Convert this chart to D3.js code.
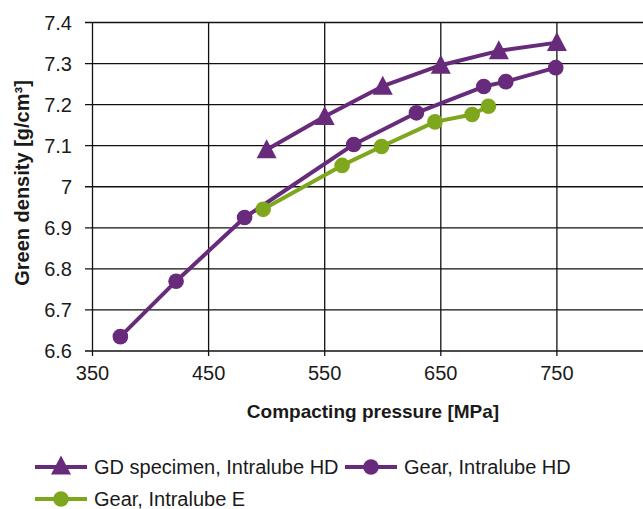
<!DOCTYPE html>
<html>
<head>
<meta charset="utf-8">
<script src="https://cdn.jsdelivr.net/npm/d3@7"></script>
<style>
  html, body { margin: 0; padding: 0; background: #fff; }
  svg { display: block; font-family: "Liberation Sans", Arial, sans-serif; }
</style>
</head>
<body>
<script>
// ---- data ----
const xTicks = [350, 450, 550, 650, 750, 850];
const yTicks = [6.6, 6.7, 6.8, 6.9, 7.0, 7.1, 7.2, 7.3, 7.4];

const gdPressure = [500, 550, 600, 650, 700, 750];
const gdDensity  = [7.09, 7.171, 7.245, 7.296, 7.331, 7.351];

const gearHDPressure = [374, 422, 481, 575, 629, 687, 706, 749];
const gearHDDensity  = [6.635, 6.77, 6.925, 7.103, 7.18, 7.244, 7.256, 7.29];

const gearEPressure = [497, 565, 599, 645, 677, 691];
const gearEDensity  = [6.945, 7.052, 7.098, 7.158, 7.176, 7.196];

const seriesNames = ["GD specimen, Intralube HD", "Gear, Intralube HD", "Gear, Intralube E"];
const xTitle = "Compacting pressure [MPa]";
const yTitle = "Green density [g/cm³]";

const PURPLE = "#682a7b";
const GREEN = "#7fa71e";

const W = 643, H = 509;
const svg = d3.select("body").append("svg").attr("width", W).attr("height", H);

const x = d3.scaleLinear().domain([350, 850]).range([92.5, 673]);
const y = d3.scaleLinear().domain([6.6, 7.4]).range([351, 22.5]);

// grid
const grid = svg.append("g").attr("stroke", "#111").attr("stroke-width", 1.3);
grid.selectAll("line.h").data(yTicks).join("line")
  .attr("x1", 85).attr("x2", W)
  .attr("y1", d => y(d)).attr("y2", d => y(d));
grid.selectAll("line.v").data(xTicks).join("line")
  .attr("x1", d => x(d)).attr("x2", d => x(d))
  .attr("y1", y(7.4)).attr("y2", y(6.6) + 5);

// tick labels
svg.append("g").selectAll("text").data(yTicks).join("text")
  .attr("x", 72).attr("y", d => y(d)).attr("dy", "0.36em")
  .attr("text-anchor", "end").attr("font-size", 20).attr("fill", "#1a1a1a")
  .text(d => d3.format("~g")(d));
svg.append("g").selectAll("text").data(xTicks.filter(d => x(d) < W - 20)).join("text")
  .attr("x", d => x(d)).attr("y", 380)
  .attr("text-anchor", "middle").attr("font-size", 20).attr("fill", "#1a1a1a")
  .text(d => d);

// axis titles
svg.append("text").attr("x", 373).attr("y", 418)
  .attr("text-anchor", "middle").attr("font-size", 19).attr("font-weight", "bold")
  .attr("fill", "#1a1a1a").text(xTitle);
svg.append("text").attr("transform", "translate(29,183) rotate(-90)")
  .attr("text-anchor", "middle").attr("font-size", 20).attr("font-weight", "bold")
  .attr("fill", "#1a1a1a").text(yTitle);

// series
const line = d3.line().x(d => x(d[0])).y(d => y(d[1]));
const tri = "M0,-10.5L10,8.5L-10,8.5Z";

function drawSeries(px, py, color, marker) {
  const pts = px.map((v, i) => [v, py[i]]);
  const g = svg.append("g");
  g.append("path").datum(pts).attr("d", line)
    .attr("fill", "none").attr("stroke", color).attr("stroke-width", 4)
    .attr("stroke-linejoin", "round");
  if (marker === "tri") {
    g.selectAll("path.m").data(pts).join("path").attr("class", "m")
      .attr("transform", d => `translate(${x(d[0])},${y(d[1])})`)
      .attr("d", tri).attr("fill", color);
  } else {
    g.selectAll("circle").data(pts).join("circle")
      .attr("cx", d => x(d[0])).attr("cy", d => y(d[1])).attr("r", 7.8).attr("fill", color);
  }
}
drawSeries(gdPressure, gdDensity, PURPLE, "tri");
drawSeries(gearHDPressure, gearHDDensity, PURPLE, "circle");
drawSeries(gearEPressure, gearEDensity, GREEN, "circle");

// legend
const legendItems = [
  { name: seriesNames[0], color: PURPLE, marker: "tri", x0: 35, y0: 467 },
  { name: seriesNames[1], color: PURPLE, marker: "circle", x0: 345, y0: 467 },
  { name: seriesNames[2], color: GREEN, marker: "circle", x0: 35, y0: 499 }
];
const lg = svg.append("g").selectAll("g").data(legendItems).join("g")
  .attr("transform", d => `translate(${d.x0},${d.y0})`);
lg.append("line").attr("x1", 0).attr("x2", 52).attr("y1", 0).attr("y2", 0)
  .attr("stroke", d => d.color).attr("stroke-width", 4);
lg.each(function(d) {
  const g = d3.select(this);
  if (d.marker === "tri") g.append("path").attr("d", tri).attr("transform", "translate(26,-1)").attr("fill", d.color);
  else g.append("circle").attr("cx", 26).attr("cy", 0).attr("r", 7.8).attr("fill", d.color);
});
lg.append("text").attr("x", 59).attr("y", 7).attr("font-size", 20).attr("fill", "#1a1a1a")
  .text(d => d.name);
</script>
</body>
</html>
